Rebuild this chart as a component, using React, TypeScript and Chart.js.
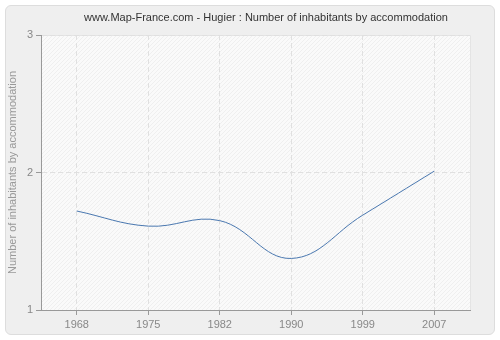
import React, { useEffect, useRef } from "react";
import { Chart, registerables } from "chart.js";

Chart.register(...registerables);

const titleText = "www.Map-France.com - Hugier : Number of inhabitants by accommodation";
const yAxisTitle = "Number of inhabitants by accommodation";
const years = ["1968", "1975", "1982", "1990", "1999", "2007"];
const values = [1.72, 1.61, 1.65, 1.375, 1.69, 2.01];
const yTicks = [1, 2, 3];

const FONT = "'Liberation Sans', Arial, sans-serif";

function makePattern(): CanvasPattern | string {
  const s = 4;
  const c = document.createElement("canvas");
  c.width = s;
  c.height = s;
  const g = c.getContext("2d");
  if (!g) return "#f8f8f8";
  g.fillStyle = "#fafafa";
  g.fillRect(0, 0, s, s);
  g.strokeStyle = "#efefef";
  g.lineWidth = 1;
  g.beginPath();
  g.moveTo(0, s);
  g.lineTo(s, 0);
  g.moveTo(-s / 2, s / 2);
  g.lineTo(s / 2, -s / 2);
  g.moveTo(s / 2, s * 1.5);
  g.lineTo(s * 1.5, s / 2);
  g.stroke();
  const p = g.createPattern(c, "repeat");
  return p || "#f8f8f8";
}

export default function App() {
  const ref = useRef<HTMLCanvasElement | null>(null);

  useEffect(() => {
    if (!ref.current) return;
    const pattern = makePattern();
    const bgPlugin = {
      id: "bgPlugin",
      beforeDraw(chart: any) {
        const { ctx, chartArea } = chart;
        const { left, top, right, bottom } = chartArea;
        ctx.save();
        ctx.fillStyle = pattern;
        ctx.fillRect(left, top, right - left, bottom - top);
        ctx.strokeStyle = "#e4e4e4";
        ctx.lineWidth = 1;
        ctx.beginPath();
        ctx.moveTo(left, top + 0.5);
        ctx.lineTo(right + 0.5, top + 0.5);
        ctx.lineTo(right + 0.5, bottom);
        ctx.stroke();
        ctx.restore();
      },
      afterDraw(chart: any) {
        const { ctx } = chart;
        ctx.save();
        ctx.fillStyle = "#333333";
        ctx.font = `11px ${FONT}`;
        ctx.textAlign = "center";
        ctx.textBaseline = "middle";
        ctx.fillText(titleText, 266, 18);
        ctx.restore();
      },
    };

    const chart = new Chart(ref.current, {
      type: "line",
      data: {
        labels: years,
        datasets: [
          {
            data: values,
            borderColor: "#4a78b0",
            borderWidth: 1,
            pointRadius: 0,
            tension: 0.4,
            fill: false,
          },
        ],
      },
      plugins: [bgPlugin],
      options: {
        animation: false,
        responsive: false,
        maintainAspectRatio: false,
        layout: { padding: { top: 35, right: 30, left: 0, bottom: 0 } },
        plugins: {
          legend: { display: false },
          tooltip: { enabled: false },
          title: { display: false },
        },
        scales: {
          x: {
            type: "category",
            offset: true,
            grid: {
              color: "#e0e0e0",
              tickLength: 5,
              tickColor: "#999999",
              tickBorderDash: [],
              offset: false,
            },
            border: { color: "#999999", width: 1, dash: [5, 3] },
            ticks: { color: "#888888", font: { family: FONT, size: 11 }, padding: 3, maxRotation: 0 },
            afterFit(scale: any) {
              scale.height = 30;
            },
          },
          y: {
            min: 1,
            max: 3,
            afterBuildTicks(scale: any) {
              scale.ticks = yTicks.map((v) => ({ value: v }));
            },
            grid: {
              color: "#e0e0e0",
              tickLength: 5,
              tickColor: "#999999",
              tickBorderDash: [],
            },
            border: { color: "#999999", width: 1, dash: [5, 3] },
            ticks: { color: "#888888", font: { family: FONT, size: 11 }, padding: 3 },
            title: {
              display: true,
              text: yAxisTitle,
              color: "#999999",
              font: { family: FONT, size: 11 },
              padding: { top: 6, bottom: 0 },
            },
            afterFit(scale: any) {
              scale.width = 41;
            },
          },
        },
      } as any,
    });
    return () => chart.destroy();
  }, []);

  return (
    <div style={{ position: "fixed", left: 0, top: 0, width: 500, height: 340, background: "#ffffff" }}>
      <div
        style={{
          position: "absolute",
          left: 5,
          top: 5,
          width: 488,
          height: 328,
          background: "#efefef",
          border: "1px solid #dddddd",
          borderRadius: 6,
        }}
      />
      <canvas ref={ref} width={500} height={340} style={{ position: "absolute", left: 0, top: 0, width: 500, height: 340 }} />
    </div>
  );
}
